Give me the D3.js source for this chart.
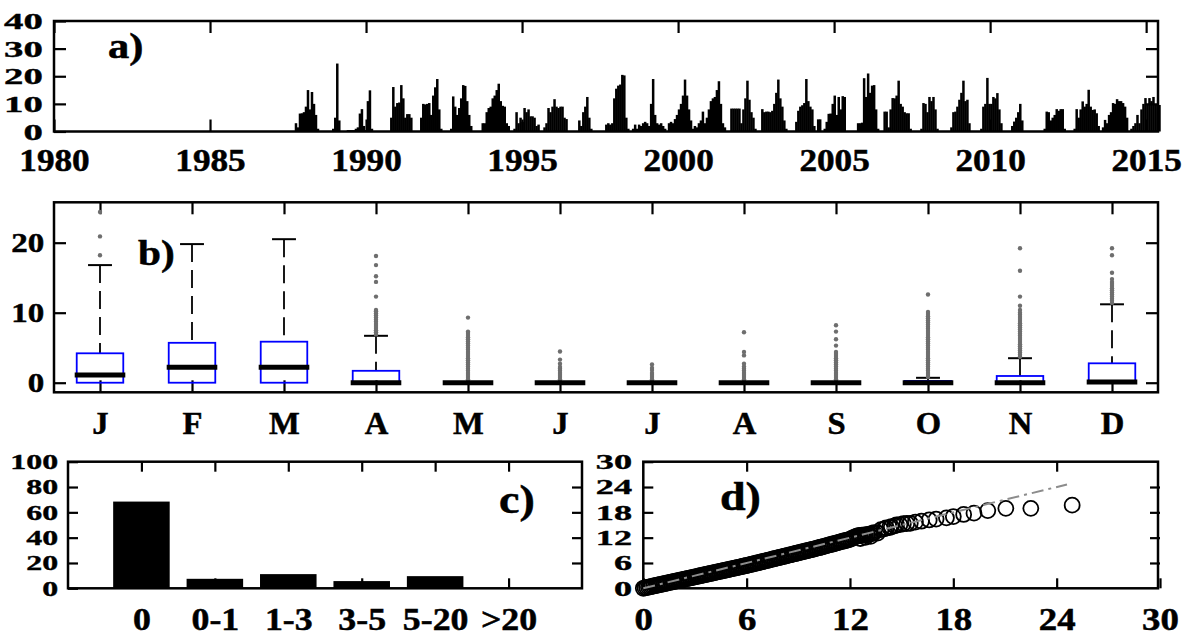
<!DOCTYPE html>
<html><head><meta charset="utf-8">
<script src="https://cdn.jsdelivr.net/npm/d3@7"></script>
<style>body{margin:0;background:#fff}svg{display:block}</style>
</head><body><svg id="chart" width="1185" height="637"></svg>
<script>
// ---------------- DATA ----------------
// a) daily rainfall series, sampled every rainStep years within each wet episode
const rainStep = 0.0641;
const rainEpisodeStart = [1987.715,1988.91,1989.38,1990.77,1991.73,1992.69,1993.70,1994.72,1995.68,1996.795,1997.66,1998.52,1999.67,2000.50,2001.67,2002.66,2003.75,2004.45,2004.66,2005.73,2006.58,2007.76,2008.72,2009.68,2010.67,2011.71,2012.67,2013.58,2014.49];
const rainEpisodeValues = [
  [3,1.5,6.5,6.6,7,9,15,8,14.3,10,6,1],
  [1,5,24.6,4],
  [0.5,0.5,0.5,0.5,1,1.5,6.5,8.1,2,0.5,11,14.9,1],
  [5,16.1,9,10.3,10.5,16.8,12,5,6.3,6.3,5],
  [5,10,9.8,10,10.3,6,13,16,19,8,1],
  [1,12.7,9,6,8.5,12,16.8,16.5,11,6,2],
  [3,3,7,8.5,9,12,13,15,17.3,11,9.3,9,3,2],
  [1,7,3,5,3.5,8.5,7,8,5.5,5.5,5,2,2.5],
  [1.5,3,8.5,7,9,11.7,9,8.5,9,9,5,4.5],
  [4,2,7,9,12.5,5,1],
  [2.5,3,2.5,3,12,15.5,16.6,17,20.5,20.3,5,1],
  [1,2.5,1,2.5,2,3,3.5,3,2,10,19,6,3,2.5,3,2,1],
  [3,3.5,3,4.5,6,8,10,13,18.8,13,8,4,1],
  [2,1.5,3,4,7.2,3,5,8,11,12,12.5,15,18.2,10,3,1.5],
  [8.3,8.3,8.3,8.3,8.3,3,8,12,18.4,11.5,7,5,1],
  [8.1,7,7.2,7.2,7,7.5,10,14,18.8,12,9,4,1],
  [3.5,7.5,9,9.5,10.3,19,11,9,8,2],
  [4.4,4.4],
  [1,3.5,6.4,6.5,10,13,6,12.5,8,12.8,12.5],
  [3,3,3.2,19.3,12.5,21,14,16.6,16.8,8,1],
  [7.2,7.2,1.5,8,12.1,12,13,18.4,10,9,7,6.6,6.6,1],
  [1,10.3,10,7,12.5,11,12.5,8,1],
  [1.5,7,7.2,9,11.5,14,18.4,11,11.5,3],
  [1,9,10,19.4,10,10,12.5,12,13.9,8,3],
  [2,3.6,5,7,10,4],
  [1,7.2,7,4,5,6,8.1,7.5,8.1,8.1,1],
  [1,8.1,5,8,10.9,9,10,15.1,9,7.8,8,6.6,2],
  [1.5,4.2,3,6,7,10.3,10,11.7,11,11,10.3,9,5],
  [1,2,3,6,3,8,10,12.1,10,12.1,11,12.5,10,9.6,9.6]
];
const yearTicks = [1980,1985,1990,1995,2000,2005,2010,2015];
const rainTicks = [0,10,20,30,40];

// b) monthly box plots
const months = ["J","F","M","A","M","J","J","A","S","O","N","D"];
const boxQ1 = [0,0,0,0,0,0,0,0,0,0,0,0];
const boxMedian = [1.1,2.2,2.2,0,0,0,0,0,0,0,0,0.1];
const boxQ3 = [4.2,5.7,5.86,1.7,0,0,0,0,0,0.25,0.96,2.77];
const whiskerHigh = [16.8,19.8,20.5,6.7,0,0,0,0,0,0.7,3.5,11.2];
const boxOutliers = [
  [18.2,20.9,24.4],
  [],
  [],
  [6.9,7.2,7.5,7.8,8.1,8.4,8.7,9.0,9.3,9.6,9.9,10.2,10.4,12.3,14.4,15.2,16.8,18.1],
  [0.2,0.5,0.8,1.1,1.4,1.7,2.0,2.3,2.6,2.9,3.2,3.5,3.8,4.1,4.4,4.7,5.0,5.3,5.6,5.9,6.2,6.5,6.8,7.1,7.3,9.3],
  [0.2,0.5,0.8,1.1,1.4,1.7,2.0,2.25,2.7,3.3,4.45],
  [0.2,0.5,0.8,1.1,1.4,1.8,2.1,2.6],
  [0.2,0.5,0.8,1.1,1.4,1.7,2.0,2.3,2.7,3.9,4.4,7.2],
  [0.2,0.5,0.8,1.1,1.4,1.7,2.0,2.3,2.6,2.9,3.2,3.5,3.8,4.1,4.4,5.3,6.2,7.3,8.2],
  [0.8,1.1,1.4,1.7,2.0,2.3,2.6,2.9,3.2,3.5,3.8,4.1,4.4,4.7,5.0,5.3,5.6,5.9,6.2,6.5,6.8,7.1,7.4,7.7,8.0,8.3,8.6,8.9,9.2,9.5,9.8,10.1,12.6],
  [3.7,4.0,4.3,4.6,4.9,5.2,5.5,5.8,6.1,6.4,6.7,7.0,7.3,7.6,7.9,8.2,8.5,8.8,9.1,9.4,9.7,10.0,10.4,11.0,12.3,16.0,19.2],
  [11.4,11.7,12.0,12.3,12.6,12.9,13.2,13.5,13.8,14.1,14.4,14.8,15.7,18.2,19.2]
];
const boxTicks = [0,10,20];

// c) class frequencies (%)
const classLabels = ["0","0-1","1-3","3-5","5-20",">20"];
const classPercent = [68.5,7.5,11.2,5.7,9.6,0];
const percentTicks = [0,20,40,60,80,100];

// d) quantile-quantile points (dense body, then sparse upper tail)
const qqObserved = [
  0,0.1,0.2,0.3,0.4,0.5,0.6,0.7,0.8,0.9,1.0,1.1,1.2,1.3,1.4,1.5,1.6,1.7,1.8,1.9,2.0,2.1,2.2,2.3,2.4,2.5,2.6,2.7,2.8,2.9,
  3.0,3.1,3.2,3.3,3.4,3.5,3.6,3.7,3.8,3.9,4.0,4.1,4.2,4.3,4.4,4.5,4.6,4.7,4.8,4.9,5.0,5.1,5.2,5.3,5.4,5.5,5.6,5.7,5.8,5.9,
  6.0,6.1,6.2,6.3,6.4,6.5,6.6,6.7,6.8,6.9,7.0,7.1,7.2,7.3,7.4,7.5,7.6,7.7,7.8,7.9,8.0,8.1,8.2,8.3,8.4,8.5,8.6,8.7,8.8,8.9,
  9.0,9.1,9.2,9.3,9.4,9.5,9.6,9.7,9.8,9.9,10.0,10.1,10.2,10.3,10.4,10.5,10.6,10.7,10.8,10.9,11.0,11.1,11.2,11.3,11.4,11.5,11.6,11.7,11.8,11.9,
  12.0,12.1,12.2,12.3,12.4,12.5,12.6,12.7,12.8,12.9,13.0,13.1,13.2,13.3,13.4,12.6,12.9,13.2,
  13.6,13.8,14.0,14.1,14.3,14.4,14.6,14.7,14.9,15.1,15.3,15.5,15.8,16.15,16.6,17.0,17.6,18.0,18.6,19.2,20.0,21.05,22.5,24.9];
const qqModel = [
  0,0.09,0.18,0.27,0.36,0.45,0.54,0.63,0.72,0.81,0.9,0.99,1.08,1.17,1.26,1.35,1.44,1.53,1.62,1.71,1.8,1.89,1.98,2.07,2.16,2.25,2.34,2.43,2.52,2.61,
  2.7,2.79,2.88,2.97,3.06,3.15,3.24,3.33,3.42,3.51,3.6,3.69,3.78,3.87,3.96,4.05,4.14,4.23,4.32,4.41,4.5,4.59,4.68,4.77,4.86,4.95,5.04,5.13,5.22,5.31,
  5.4,5.5,5.6,5.7,5.8,5.9,6.0,6.1,6.2,6.3,6.4,6.5,6.6,6.7,6.8,6.9,7.0,7.1,7.2,7.3,7.4,7.5,7.6,7.7,7.8,7.9,8.0,8.1,8.2,8.3,
  8.4,8.5,8.6,8.7,8.8,8.9,9.0,9.1,9.2,9.3,9.4,9.51,9.62,9.73,9.84,9.95,10.06,10.17,10.28,10.39,10.5,10.61,10.72,10.83,10.94,11.05,11.16,11.27,11.38,11.49,
  11.6,11.8,12.0,12.2,12.35,12.5,12.55,12.6,12.6,12.65,12.7,12.8,12.9,13.0,13.2,11.8,12.1,12.3,
  13.1,13.9,14.1,14.3,14.4,14.6,14.8,15.0,15.1,15.3,15.35,15.4,15.7,15.9,16.2,16.4,16.7,17.0,17.5,17.8,18.4,18.95,18.95,19.7];
const qqTicks = [0,6,12,18,24,30];
const qqLineEnd = 24.6;

// ---------------- DRAWING ----------------
const FONT = '"Liberation Serif","Times New Roman",serif';
const svg = d3.select("#chart");
const FRAME_W = 2.5, TICK_W = 2.2, TEXT_STROKE = 0.5;

function styleAxis(g, size, sx, sy) {
  g.select(".domain").remove();
  g.selectAll(".tick line").attr("stroke", "#000").attr("stroke-width", TICK_W);
  g.selectAll("text").attr("font-family", FONT).attr("font-weight", "bold")
    .attr("font-size", size).attr("fill", "#000")
    .attr("stroke", "#000").attr("stroke-width", TEXT_STROKE)
    .attr("transform", `scale(${sx||1},${sy||1})`);
}
function frame(x, y) {
  const [x0, x1] = x.range(), [y0, y1] = y.range();
  svg.append("rect").attr("x", Math.min(x0,x1)).attr("y", Math.min(y0,y1))
    .attr("width", Math.abs(x1-x0)).attr("height", Math.abs(y1-y0))
    .attr("fill", "none").attr("stroke", "#000").attr("stroke-width", FRAME_W);
}
function axes(x, y, xt, yt, opts) {
  const tl = opts.tick || 12;
  const [yb, ytop] = y.range(), [xl, xr] = x.range();
  const gb = svg.append("g").attr("transform", `translate(0,${yb})`)
    .call(d3.axisBottom(x).tickValues(xt).tickSize(-tl).tickFormat(opts.xfmt || (d => d)));
  styleAxis(gb, opts.xSize || 32, opts.xSx || 1.05, 1);
  gb.selectAll("text").attr("y", opts.xOff || 41).attr("dy", 0);
  const gt = svg.append("g").attr("transform", `translate(0,${ytop})`)
    .call(d3.axisTop(x).tickValues(opts.xtTop || xt).tickSize(-tl).tickFormat(""));
  styleAxis(gt, 1);
  const gl = svg.append("g").attr("transform", `translate(${xl},0)`)
    .call(d3.axisLeft(y).tickValues(yt).tickSize(-tl).tickPadding(opts.yPad || 9));
  styleAxis(gl, opts.ySize || 30, opts.ySx || 1.1, opts.ySy || 1);
  const gr = svg.append("g").attr("transform", `translate(${xr},0)`)
    .call(d3.axisRight(y).tickValues(opts.ytRight || yt).tickSize(-tl).tickFormat(""));
  styleAxis(gr, 1);
}
function panelLabel(txt, x, y, size) {
  svg.append("text").attr("transform", `translate(${x},${y}) scale(1.18,1)`).text(txt)
    .attr("font-family", FONT).attr("font-weight", "bold").attr("font-size", size).attr("fill", "#000")
    .attr("stroke", "#000").attr("stroke-width", TEXT_STROKE);
}

// ---- panel a ----
{
  const x = d3.scaleLinear().domain([1980, 2015.38]).range([54, 1158]);
  const y = d3.scaleLinear().domain([0, 40]).range([131.5, 21]);
  const samples = [];
  rainEpisodeStart.forEach((t0, i) => rainEpisodeValues[i].forEach((v, j) => samples.push({t: t0 + j*rainStep, v})));
  svg.append("g").selectAll("rect").data(samples).join("rect")
    .attr("x", d => x(d.t)).attr("width", d => x(d.t + rainStep) - x(d.t) + 0.5)
    .attr("y", d => y(d.v)).attr("height", d => y(0) - y(d.v)).attr("fill", "#000");
  frame(x, y);
  axes(x, y, yearTicks, rainTicks, {xOff: 40, ytRight: [10,20,30], ySy: 0.77, ySize: 31, ySx: 1.25, xSx: 1.1});
  panelLabel("a)", 108, 58, 36);
}

// ---- panel b ----
{
  const x = d3.scaleLinear().domain([0.5, 12.5]).range([54, 1158]);
  const y = d3.scaleLinear().domain([-1.37, 25.77]).range([392.3, 202.3]);
  const idx = months.map((m, i) => i + 1);
  frame(x, y);
  axes(x, y, idx, boxTicks, {xfmt: d => months[d-1], xOff: 42, ySy: 0.9, xSize: 32, xSx: 1.02});
  const boxW = 0.506, capW = 0.26, medW = 0.55;
  const g = svg.append("g");
  idx.forEach((c, i) => {
    if (whiskerHigh[i] > boxQ3[i]) {
      g.append("line").attr("x1", x(c)).attr("x2", x(c)).attr("y1", y(whiskerHigh[i])).attr("y2", y(boxQ3[i]))
        .attr("stroke", "#000").attr("stroke-width", 1.8).attr("stroke-dasharray", "18,8");
    }
    g.append("line").attr("x1", x(c - capW/2)).attr("x2", x(c + capW/2)).attr("y1", y(whiskerHigh[i])).attr("y2", y(whiskerHigh[i]))
      .attr("stroke", "#000").attr("stroke-width", 2);
    g.append("rect").attr("x", x(c - boxW/2)).attr("width", x(c + boxW/2) - x(c - boxW/2))
      .attr("y", y(boxQ3[i])).attr("height", y(boxQ1[i]) - y(boxQ3[i]))
      .attr("fill", "none").attr("stroke", "#0000ff").attr("stroke-width", 1.8);
    g.selectAll(null).data(boxOutliers[i]).join("circle")
      .attr("cx", x(c)).attr("cy", d => y(d)).attr("r", 2.2).attr("fill", "#6e6e6e");
    g.append("line").attr("x1", x(c - medW/2)).attr("x2", x(c + medW/2)).attr("y1", y(boxMedian[i])).attr("y2", y(boxMedian[i]))
      .attr("stroke", "#000").attr("stroke-width", 5);
  });
  panelLabel("b)", 138, 265, 35);
}

// ---- panel c ----
{
  const x = d3.scaleLinear().domain([0, 7]).range([68, 582]);
  const y = d3.scaleLinear().domain([0, 100]).range([588.3, 461.7]);
  const idx = classLabels.map((c, i) => i + 1);
  const bw = 0.77;
  svg.append("g").selectAll("rect").data(classPercent).join("rect")
    .attr("x", (d, i) => x(idx[i] - bw/2)).attr("width", x(bw) - x(0))
    .attr("y", d => y(d)).attr("height", d => y(0) - y(d)).attr("fill", "#000");
  frame(x, y);
  axes(x, y, idx, percentTicks, {xfmt: d => classLabels[d-1], xOff: 42, tick: 10, ytRight: [20,40,60,80], ySize: 29, ySy: 0.75, xSx: 1.12});
  panelLabel("c)", 499, 513, 39);
}

// ---- panel d ----
{
  const x = d3.scaleLinear().domain([0, 30]).range([643.3, 1160]);
  const y = d3.scaleLinear().domain([0, 30]).range([588.3, 461.7]);
  frame(d3.scaleLinear().range([643.3, 1158]), y);
  axes(x, y, qqTicks, qqTicks, {xOff: 42, tick: 10, xtTop: [6,12,18,24], ytRight: [6,12,18,24], ySize: 29, ySy: 0.75, ySx: 1.25, xSx: 1.15});
  svg.append("g").selectAll("circle").data(qqObserved).join("circle")
    .attr("cx", d => x(d)).attr("cy", (d, i) => y(qqModel[i])).attr("r", 7.5)
    .attr("fill", "none").attr("stroke", "#000").attr("stroke-width", 1.8);
  svg.append("line").attr("x1", x(0)).attr("y1", y(0)).attr("x2", x(qqLineEnd)).attr("y2", y(qqLineEnd))
    .attr("stroke", "#8c8c8c").attr("stroke-width", 2).attr("stroke-dasharray", "12,5,3,5");
  panelLabel("d)", 720, 510, 39);
}
</script></body></html>
